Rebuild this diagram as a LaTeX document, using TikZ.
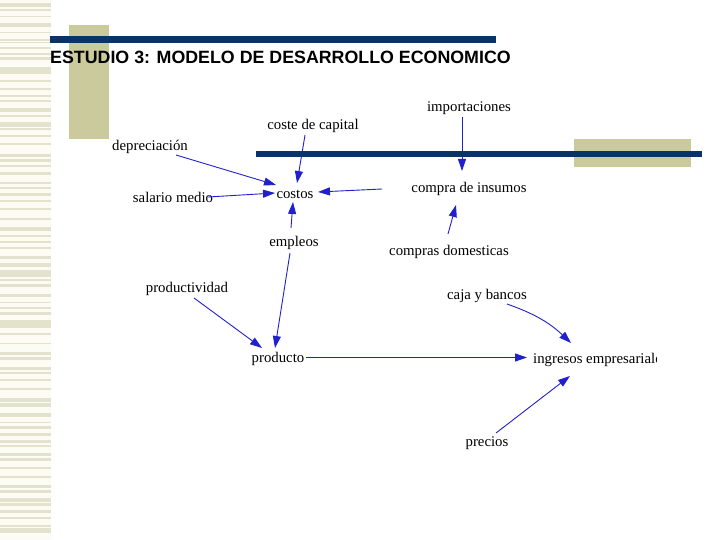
\documentclass[tikz,border=0pt]{standalone}
\usepackage{fontspec}
\setmainfont{Liberation Serif}
\newfontfamily\titlefont{Liberation Sans}
\usetikzlibrary{arrows.meta}
\definecolor{navy}{HTML}{0A3366}
\definecolor{tanc}{HTML}{CBCA9C}
\definecolor{stripecol}{HTML}{E3E2CD}
\definecolor{stripebg}{HTML}{FCFCF5}
\definecolor{arrowblue}{HTML}{2020CC}
\begin{document}
\begin{tikzpicture}[x=1pt,y=-1pt,
  lbl/.style={inner sep=0pt,text height=12pt,text depth=1pt,font=\fontsize{14.8}{16}\selectfont},
  arr/.style={draw=arrowblue,line width=0.9pt,-{Triangle[length=12pt,width=8pt]}}]
\useasboundingbox (0,0) rectangle (720,540);
\fill[white] (0,0) rectangle (720,540);
% left striped band
\fill[stripebg] (0,0) rectangle (51,540);
\foreach \a/\b in {3/7,9/11,16/17,23/27,32/33,39/41,42/43,47/49,53/55,57/60,67/74,80/82,88/90,95/97,100/102,108/112,115/117,122/127,128/130,135/137,143/145,154/157,159/162,165/167,172/175,182/184,187/189,193/196,200/202,208/210,218/220,227/231,235/237,241/243,247/249,256/259,263/267,270/277,279/281,284/287,294/297,302/303,307/309,312/315,320/328,333/335,343/344,352/355,357/360,367/370,372/374,379/381,388/390,398/402,403/407,413/417,422/423,426/429,433/436,440/443,445/447,453/456,458/461,467/469,476/478,485/488,490/493,498/502,503/506,510/513,517/519,525/527,528/533}
  \fill[stripecol] (0,\a) rectangle (51,\b);
% top decoration and title
\fill[tanc] (69,25) rectangle (109,139);
\fill[navy] (50,36) rectangle (496,43);
\node[anchor=base west,inner sep=0pt,font=\titlefont\bfseries\fontsize{17.8}{20}\selectfont] (title) at (50,64) {ESTUDIO 3: MODELO DE DESARROLLO ECONOMICO};
% diagram nodes
\node[lbl] (imp) at (469,106) {importaciones};
\node[lbl] (cc) at (313,124) {coste de capital};
\node[lbl] (dep) at (150,145) {depreciación};
\node[lbl] (costos) at (295,193) {costos};
\node[lbl] (sal) at (173,197) {salario medio};
\node[lbl] (compra) at (469,187) {compra de insumos};
\node[lbl] (empl) at (294,241) {empleos};
\node[lbl] (cdom) at (449,250) {compras domesticas};
\node[lbl] (prodv) at (187,287) {productividad};
\node[lbl] (caja) at (487,294) {caja y bancos};
\node[lbl] (prod) at (278,357) {producto};
\begin{scope}
\clip (0,0) rectangle (656,540);
\node[lbl,anchor=west] (ing) at (533,357.5) {ingresos empresariales};
\end{scope}
\node[lbl] (prec) at (487,441) {precios};
% connectors
\draw[arr] ([shift={(26,10)}]dep.center) -- ([shift={(-19,-8)}]costos.center);
\draw[arr] ([shift={(-8,11)}]cc.center) -- ([shift={(2,-10)}]costos.center);
\draw[arr] ([shift={(35,0)}]sal.center) -- ([shift={(-20,0)}]costos.center);
\draw[arr] ([shift={(-87,2)}]compra.center) -- ([shift={(23,-1)}]costos.center);
\draw[arr] ([shift={(-3,-13)}]empl.center) -- ([shift={(-2,9)}]costos.center);
\draw[arr] ([shift={(-4,12)}]empl.center) -- ([shift={(-3,-9)}]prod.center);
\draw[arr] ([shift={(-7,11)}]imp.center) -- ([shift={(-7,-16)}]compra.center);
\draw[arr] ([shift={(-1,-16)}]cdom.center) -- ([shift={(-13,18)}]compra.center);
\draw[arr] ([shift={(7,11)}]prodv.center) -- ([shift={(-16,-9)}]prod.center);
\draw[arr] ([shift={(28,0.5)}]prod.center) -- ([shift={(-6,0)}]ing.west);
\draw[arr] ([shift={(20,10)}]caja.center) to[bend left=12] ([shift={(38,-14.5)}]ing.west);
\draw[arr] ([shift={(9,-8)}]prec.center) -- ([shift={(37,18.5)}]ing.west);
% second decoration
\fill[tanc] (574,139) rectangle (691,167);
\fill[navy] (256,151) rectangle (702,157);
\end{tikzpicture}
\end{document}
